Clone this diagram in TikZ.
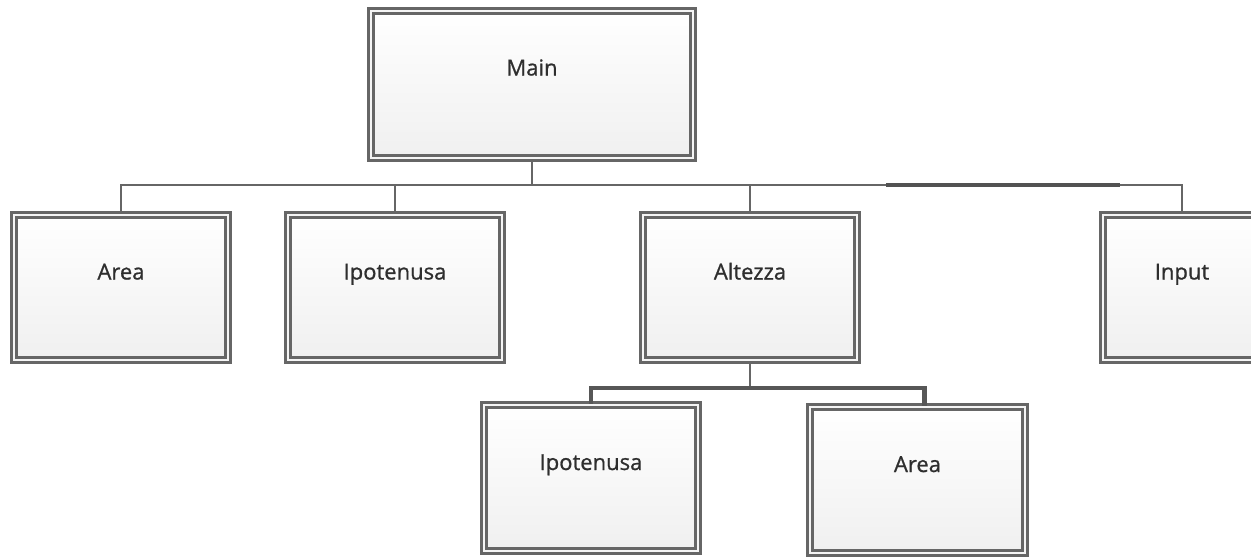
\documentclass[tikz,border=0pt]{standalone}
\usepackage{fontspec}
\setmainfont{Open Sans}
\newfontfamily\boxfont[FakeBold=0.9]{Open Sans}
\usetikzlibrary{shadows}
\definecolor{frame}{HTML}{666666}
\definecolor{ink}{HTML}{2E2E2E}
\begin{document}
\begin{tikzpicture}[x=1pt,y=-1pt,
  module/.style={rectangle, draw=frame, line width=2.6pt, double=gray!8,
    double distance=2.4pt, top color=white, bottom color=gray!12,
    inner sep=0pt, minimum width=214pt, minimum height=145pt,
    font=\boxfont\fontsize{22}{24}\selectfont, text=ink,
    text height=15pt, text depth=31pt,
    drop shadow={opacity=0.12, shadow xshift=2pt, shadow yshift=-2pt}},
  link/.style={draw=frame, line width=2.2pt, line join=miter},
  trunk/.style={draw=frame!85!black, line width=4.5pt, line join=miter},
  heavy/.style={draw=frame!80!black, line width=4pt},
  ]
\useasboundingbox (0,0) rectangle (1251,557);

% top-level module
\node[module, minimum width=322pt, minimum height=147pt,
      text height=15pt, text depth=33pt] (main) at (532,84.5) {Main};

% first-level modules
\node[module] (area)  at (121,287.5)  {Area};
\node[module] (ipo)   at (395,287.5)  {Ipotenusa};
\node[module] (alt)   at (750,287.5)  {Altezza};
\node[module, minimum width=158pt] (input) at (1182,287.5) {Input};

% second-level modules
\node[module, minimum height=146pt] (ipo2)  at (591,478)   {Ipotenusa};
\node[module, minimum width=215pt, minimum height=146pt] (area2) at (917.5,480) {Area};

% upper bus
\coordinate (hub) at (532,185);
\draw[link] (main.south) -- (hub);
\draw[link] (area.north) |- (hub) -| (input.north);
\draw[link] (ipo.north) -- (ipo.north |- hub);
\draw[link] (alt.north) -- (alt.north |- hub);
\coordinate (barA) at (886,185);
\coordinate (barB) at (1120,185);
\draw[heavy] (barA) -- (barB);

% lower bus
\coordinate (hub2) at (alt.south |- 0,388);
\draw[link] (alt.south) -- (hub2);
\draw[trunk] (ipo2.north) |- (hub2) -| ([xshift=7pt]area2.north);
\end{tikzpicture}
\end{document}
